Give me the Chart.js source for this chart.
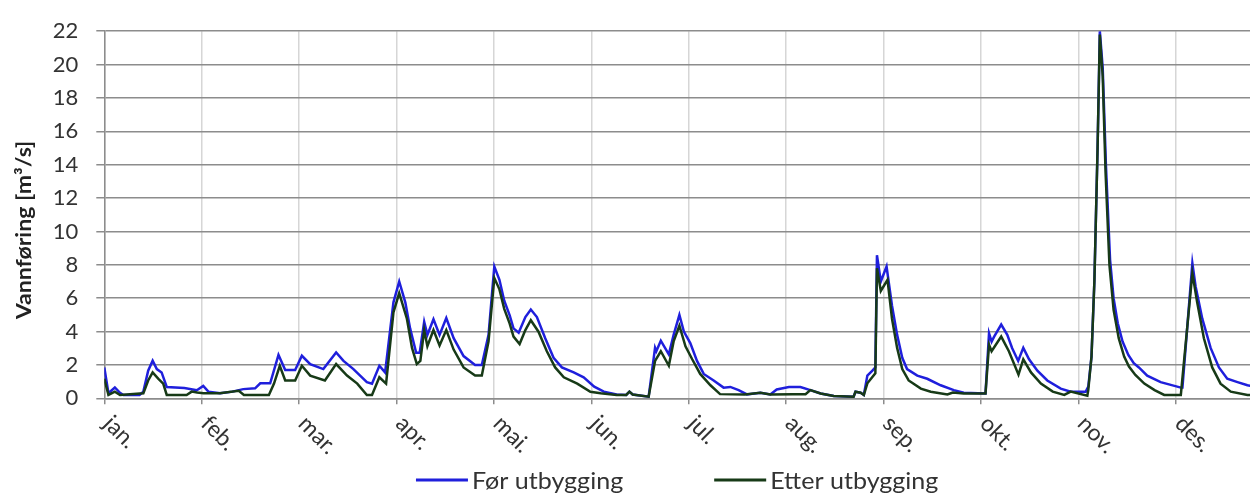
<!DOCTYPE html>
<html>
<head>
<meta charset="utf-8">
<script src="https://cdn.jsdelivr.net/npm/chart.js@4.4.0/dist/chart.umd.min.js"></script>
<style>
  html, body { margin: 0; padding: 0; background: #fff; }
  #wrap { width: 1250px; height: 501px; }
</style>
</head>
<body>
<div id="wrap"><canvas id="chart" width="1250" height="501"></canvas></div>
<script>
// month labels on the x axis (one per month start)
const monthLabels = ["jan.", "feb.", "mar.", "apr.", "mai.", "jun.", "jul.", "aug.", "sep.", "okt.", "nov.", "des."];
const yTicks = [0, 2, 4, 6, 8, 10, 12, 14, 16, 18, 20, 22];
const yTitle = "Vannføring [m³/s]";
const seriesNames = ["Før utbygging", "Etter utbygging"];

// Før utbygging (day of year, m3/s)
const forDays = [0, 1.3, 3.3, 4.9, 6, 11, 12.2, 13.7, 15.1, 16.4, 17.9, 19.5, 25, 28.9, 30.9, 32.5, 36.2, 40, 43.4, 47.1,
  48.7, 51.8, 54.4, 56.5, 59.6, 61.7, 64.3, 68.4, 72.4, 74.7, 77.8, 82, 83.6, 85.9, 87.7, 90.3, 92.1, 94, 95.5, 97.4,
  98.5, 99.9, 100.9, 102.8, 104.7, 106.8, 109.1, 112.2, 115.8, 117.9, 120, 121.8, 123.4, 124.9, 126.6, 127.8, 129.4, 131.5, 133.2, 135.1,
  137.7, 140.3, 142.9, 146.6, 149.7, 153, 156, 160, 163, 164, 165, 170, 172, 172.4, 173.8, 176.3, 177.8, 179.6, 181, 183,
  185.1, 187.2, 190.3, 193.4, 195.5, 198.1, 200.7, 204.9, 208, 210, 213.8, 217.4, 220.5, 223.7, 227.8, 234, 234.6, 236.2, 237.2, 238.3,
  239.8, 240.8, 241.3, 242.5, 244.3, 246, 247.6, 249.2, 250.7, 253.9, 257, 261.2, 265.3, 268.4, 275.2, 276.3, 277.1, 277.9, 280.1, 282,
  283.5, 285.4, 287, 288.8, 291.4, 294.5, 298.7, 301.8, 306.5, 307.3, 308.3, 309.2, 310.2, 310.9, 311.8, 312.8, 314.1, 315.2, 316.5, 318,
  319.8, 321.5, 323.1, 325.7, 329.9, 336.2, 336.7, 339.8, 340.8, 342.9, 345.5, 348.1, 350.7, 353.9, 357, 359];
const forValues = [1.85, 0.3, 0.65, 0.33, 0.2, 0.2, 0.4, 1.65, 2.25, 1.75, 1.55, 0.68, 0.62, 0.48, 0.74, 0.4, 0.3, 0.4, 0.55, 0.6,
  0.9, 0.9, 2.6, 1.7, 1.7, 2.55, 2.05, 1.75, 2.75, 2.24, 1.75, 0.97, 0.88, 1.95, 1.55, 5.75, 7.0, 5.75, 4.19, 2.73,
  2.73, 4.58, 3.8, 4.74, 3.8, 4.81, 3.6, 2.53, 2.0, 2.0, 3.8, 7.9, 7.1, 5.85, 4.97, 4.19, 3.93, 4.87, 5.32, 4.87,
  3.6, 2.43, 1.85, 1.55, 1.26, 0.7, 0.4, 0.23, 0.2, 0.4, 0.23, 0.1, 3.02, 2.82, 3.45, 2.63, 3.8, 5.0, 4.0, 3.31,
  2.24, 1.46, 1.07, 0.64, 0.68, 0.49, 0.23, 0.33, 0.23, 0.53, 0.68, 0.68, 0.49, 0.29, 0.14, 0.1, 0.39, 0.33, 0.2, 1.36,
  1.65, 1.85, 8.57, 7.0, 7.9, 5.55, 3.8, 2.43, 1.75, 1.36, 1.17, 0.78, 0.49, 0.33, 0.29, 3.9, 3.4, 3.7, 4.42, 3.8,
  3.02, 2.24, 3.02, 2.34, 1.65, 1.07, 0.58, 0.4, 0.4, 0.7, 2.5, 7, 15, 22, 19.8, 14, 8.3, 6.0, 4.5, 3.4,
  2.6, 2.1, 1.85, 1.36, 0.97, 0.64, 0.64, 8.09, 6.72, 4.77, 3.02, 1.85, 1.17, 0.97, 0.78, 0.7];

// Etter utbygging (day of year, m3/s)
const etterDays = [0, 1.3, 3.3, 4.9, 12.2, 13.7, 15.1, 16.9, 18.4, 19.5, 25.7, 27.3, 29, 31, 36, 42, 43.6, 51.4, 53, 54.8,
  56.5, 59.6, 61.7, 64.3, 68.9, 72.4, 75.8, 79, 82, 83.6, 85.9, 88, 90.3, 92.1, 94.5, 96.1, 97.6, 98.7, 99.9, 100.9,
  102.8, 104.7, 106.8, 109.1, 112.2, 115.8, 117.9, 120, 121.8, 123.4, 124.9, 126.6, 127.8, 129.7, 131.5, 133.2, 135.6, 138.2, 140.8, 143.5,
  147.7, 151.8, 155, 160, 163, 164, 165, 170, 172, 173.8, 176.3, 177.8, 179.6, 181.5, 183.6, 186.1, 189.3, 192.3, 200, 204.9,
  208, 215, 219, 220.5, 223.7, 227.8, 234, 234.6, 236.2, 237.2, 238.3, 240.8, 241.3, 242.5, 244.6, 246, 247.6, 249.2, 251.2, 255,
  258.1, 263.3, 265, 268.4, 275.2, 276.3, 277.1, 280.1, 282.5, 285.5, 287, 289.4, 292.5, 296.2, 299.8, 301.8, 307, 307.3, 308.3, 309.2,
  310.2, 310.9, 311.8, 312.7, 313.9, 315.2, 316.8, 318.5, 320, 322, 324.8, 328, 331, 336.2, 339.8, 341.3, 343.4, 346, 348.6, 351.8,
  357, 359];
const etterValues = [1.17, 0.2, 0.4, 0.2, 0.3, 1.07, 1.55, 1.17, 0.88, 0.2, 0.2, 0.4, 0.35, 0.3, 0.3, 0.45, 0.2, 0.2, 0.88, 1.95,
  1.07, 1.07, 1.95, 1.36, 1.07, 2.05, 1.36, 0.88, 0.2, 0.2, 1.26, 0.88, 5.15, 6.3, 4.77, 3.02, 2.05, 2.24, 4.09, 3.12,
  4.09, 3.17, 4.09, 2.92, 1.85, 1.36, 1.36, 3.41, 7.21, 6.53, 5.36, 4.48, 3.7, 3.25, 4.09, 4.68, 3.99, 2.82, 1.85, 1.26,
  0.88, 0.39, 0.3, 0.2, 0.2, 0.4, 0.23, 0.1, 2.24, 2.82, 1.95, 3.41, 4.35, 3.12, 2.34, 1.46, 0.78, 0.25, 0.23, 0.33,
  0.23, 0.25, 0.25, 0.49, 0.29, 0.14, 0.1, 0.39, 0.33, 0.2, 0.9, 1.5, 7.8, 6.43, 7.1, 4.77, 3.02, 1.75, 1.07, 0.58,
  0.39, 0.23, 0.35, 0.29, 0.29, 3.22, 2.82, 3.7, 2.82, 1.42, 2.34, 1.55, 0.88, 0.4, 0.2, 0.4, 0.15, 0.5, 2.5, 7,
  15, 21.8, 19.3, 13.5, 8.0, 5.3, 3.6, 2.5, 1.9, 1.4, 0.88, 0.49, 0.2, 0.2, 7.5, 5.75, 3.6, 1.85, 0.88, 0.4,
  0.2, 0.2];

const blue = "#1f1fdc";
const green = "#173a17";
const textColor = "#333333";
const daysPerMonth = 365 / 12;

function toPoints(days, values) {
  return days.map((d, i) => ({ x: d, y: values[i] }));
}

// y title, month labels (rotated clockwise from the tick) and the legend
const customText = {
  id: "customText",
  afterDraw(chart) {
    const ctx = chart.ctx;
    const xs = chart.scales.x;
    const area = chart.chartArea;
    ctx.save();

    // axis title
    ctx.fillStyle = "#222222";
    ctx.font = "bold 21px Lato";
    ctx.textAlign = "center";
    ctx.textBaseline = "alphabetic";
    ctx.save();
    ctx.translate(31, 230);
    ctx.rotate(-Math.PI / 2);
    ctx.scale(1.1, 1);
    ctx.fillText(yTitle, 0, 0);
    ctx.restore();

    // month labels
    ctx.fillStyle = textColor;
    ctx.font = "23px Lato";
    ctx.textAlign = "left";
    monthLabels.forEach((label, i) => {
      const v = i * daysPerMonth;
      if (v > xs.max) return;
      const px = xs.getPixelForValue(v);
      ctx.save();
      ctx.translate(px - 2, 425);
      ctx.rotate(Math.PI / 4);
      ctx.fillText(label, 0, 0);
      ctx.restore();
    });

    // legend
    const colors = [blue, green];
    const stretch = 1.09;
    const lineLen = 52;
    const gap = 4;
    const itemGap = 91;
    ctx.font = "23px Lato";
    const widths = seriesNames.map((s) => ctx.measureText(s).width * stretch);
    const total = widths.reduce((s, w) => s + w + lineLen + gap, 0) + itemGap * (seriesNames.length - 1);
    let x = (area.left + area.right) / 2 - total / 2;
    seriesNames.forEach((name, i) => {
      ctx.strokeStyle = colors[i];
      ctx.lineWidth = 3;
      ctx.beginPath();
      ctx.moveTo(x, 480);
      ctx.lineTo(x + lineLen, 480);
      ctx.stroke();
      ctx.save();
      ctx.translate(x + lineLen + gap, 489);
      ctx.scale(stretch, 1);
      ctx.fillStyle = textColor;
      ctx.fillText(name, 0, 0);
      ctx.restore();
      x += lineLen + gap + widths[i] + itemGap;
    });
    ctx.restore();
  },
};

new Chart(document.getElementById("chart"), {
  type: "line",
  data: {
    datasets: [
      {
        label: seriesNames[0],
        data: toPoints(forDays, forValues),
        borderColor: blue,
        backgroundColor: blue,
        borderWidth: 2.5,
        pointRadius: 0,
        tension: 0,
        fill: false,
        order: 2,
      },
      {
        label: seriesNames[1],
        data: toPoints(etterDays, etterValues),
        borderColor: green,
        backgroundColor: green,
        borderWidth: 2.5,
        pointRadius: 0,
        tension: 0,
        fill: false,
        order: 1,
      },
    ],
  },
  options: {
    responsive: false,
    animation: false,
    devicePixelRatio: 1,
    layout: { padding: { top: 22.7, left: 0, right: 0, bottom: 0 } },
    plugins: {
      legend: { display: false },
      tooltip: { enabled: false },
    },
    scales: {
      x: {
        type: "linear",
        min: 0,
        max: 357.8,
        afterBuildTicks: (scale) => {
          scale.ticks = monthLabels
            .map((_, i) => ({ value: i * daysPerMonth }))
            .filter((t) => t.value <= scale.max);
        },
        afterFit: (scale) => {
          scale.height = 102.7;
        },
        ticks: { display: false },
        grid: {
          color: "#d6d6d6",
          lineWidth: 1.5,
          tickLength: 6,
          tickColor: "#8c8c8c",
        },
        border: { color: "#8c8c8c", width: 1.5 },
      },
      y: {
        min: 0,
        max: 22,
        afterBuildTicks: (scale) => {
          scale.ticks = yTicks.map((v) => ({ value: v }));
        },
        afterFit: (scale) => {
          scale.width = 104.3;
        },
        ticks: {
          color: textColor,
          font: { family: "Lato", size: 22 },
          padding: 18,
        },
        grid: {
          color: "#8c8c8c",
          lineWidth: 1.5,
          tickLength: 8,
          tickColor: "#8c8c8c",
        },
        border: { color: "#8c8c8c", width: 1.5 },
      },
    },
  },
  plugins: [customText],
});
</script>
</body>
</html>
